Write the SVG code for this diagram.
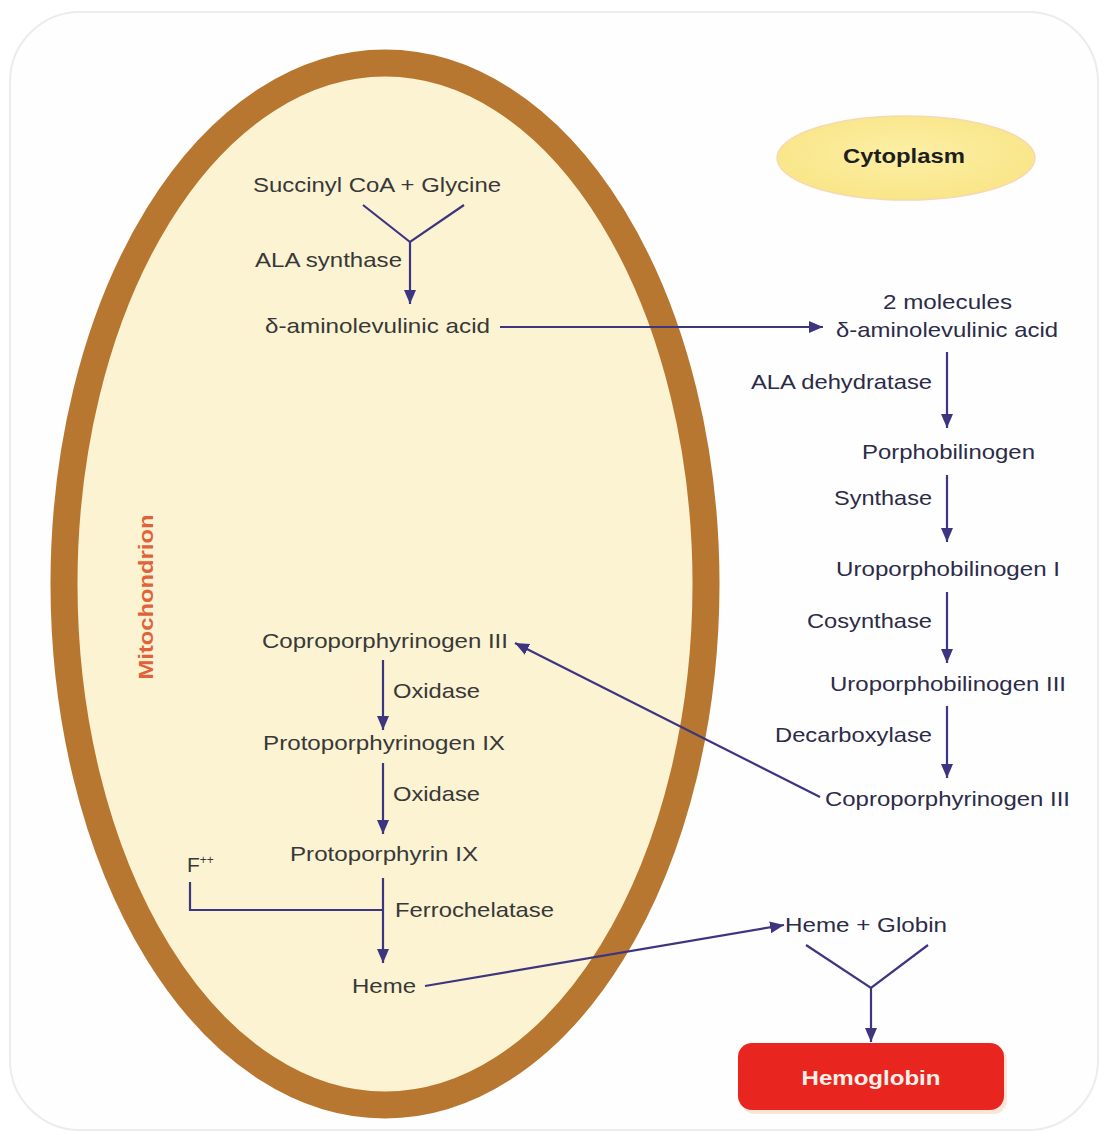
<svg xmlns="http://www.w3.org/2000/svg" width="1106" height="1134" viewBox="0 0 1106 1134">
<style>
.t{font-family:"Liberation Sans",Arial,sans-serif;font-size:21px;fill:#383838}
.e{font-family:"Liberation Sans",Arial,sans-serif;font-size:21px;fill:#2c2b48}
.c{stroke:#3d3580;stroke-width:2.2;fill:none}
.cd{stroke:#3d3580;stroke-width:2.2;fill:none;marker-end:url(#ah)}
</style>
<defs>
<marker id="ah" markerUnits="userSpaceOnUse" markerWidth="16" markerHeight="16" viewBox="0 0 16 16" refX="14" refY="8" orient="auto">
<path d="M0,2 L14,8 L0,14 Z" fill="#3d3580"/>
</marker>
<radialGradient id="cy" cx="0.5" cy="0.45" r="0.6">
<stop offset="0" stop-color="#fcefa6"/>
<stop offset="1" stop-color="#f9e585"/>
</radialGradient>
</defs>
<rect x="0" y="0" width="1106" height="1134" fill="#ffffff"/>
<rect x="10" y="12" width="1088" height="1118" rx="70" fill="#fefefe" stroke="#ececec" stroke-width="2"/>

<g id="mitochondrion">
<ellipse cx="385" cy="584" rx="321" ry="521" fill="#fcf3d2" stroke="#b87730" stroke-width="27"/>
<text class="t" transform="translate(153,597) rotate(-90)" text-anchor="middle" style="font-weight:bold;fill:#e0623c;font-size:21px" textLength="165" lengthAdjust="spacingAndGlyphs">Mitochondrion</text>
</g>

<g id="cytoplasm">
<ellipse cx="906" cy="158" rx="129" ry="42" fill="url(#cy)" stroke="#f6d9b0" stroke-width="1.5"/>
<text class="t" x="904" y="163" text-anchor="middle" style="font-weight:bold;fill:#1e1e1e;font-size:20px" textLength="122" lengthAdjust="spacingAndGlyphs">Cytoplasm</text>
</g>

<g id="connectors">
<polyline class="c" points="363,205 410,242 464,205"/>
<line class="cd" x1="410" y1="242" x2="410" y2="304"/>
<line class="cd" x1="500" y1="327" x2="823" y2="327"/>
<line class="cd" x1="947" y1="352" x2="947" y2="428"/>
<line class="cd" x1="947" y1="475" x2="947" y2="542"/>
<line class="cd" x1="947" y1="592" x2="947" y2="663"/>
<line class="cd" x1="947" y1="706" x2="947" y2="778"/>
<line class="cd" x1="820" y1="797" x2="515" y2="643"/>
<line class="cd" x1="383" y1="660" x2="383" y2="730"/>
<line class="cd" x1="383" y1="763" x2="383" y2="834"/>
<line class="cd" x1="383" y1="878" x2="383" y2="963"/>
<polyline class="c" points="190,882 190,910 383,910"/>
<line class="cd" x1="425" y1="986" x2="784" y2="925"/>
<polyline class="c" points="806,945 871,988 928,945"/>
<line class="cd" x1="871" y1="988" x2="871" y2="1042"/>
</g>

<g id="n-succinyl"><text class="t" x="253" y="192" textLength="248" lengthAdjust="spacingAndGlyphs">Succinyl CoA + Glycine</text></g>
<g id="n-ala-synthase"><text class="t" x="255" y="267" textLength="147" lengthAdjust="spacingAndGlyphs">ALA synthase</text></g>
<g id="n-ala-mito"><text class="t" x="265" y="333" textLength="225" lengthAdjust="spacingAndGlyphs">δ-aminolevulinic acid</text></g>

<g id="n-ala-cyto">
<text class="e" x="883" y="309" textLength="129" lengthAdjust="spacingAndGlyphs">2 molecules</text>
<text class="e" x="836" y="337" textLength="222" lengthAdjust="spacingAndGlyphs">δ-aminolevulinic acid</text>
</g>
<g id="n-ala-dehydratase"><text class="e" x="751" y="389" textLength="181" lengthAdjust="spacingAndGlyphs">ALA dehydratase</text></g>
<g id="n-porphobilinogen"><text class="e" x="862" y="459" textLength="173" lengthAdjust="spacingAndGlyphs">Porphobilinogen</text></g>
<g id="n-synthase"><text class="e" x="834" y="505" textLength="98" lengthAdjust="spacingAndGlyphs">Synthase</text></g>
<g id="n-uro-i"><text class="e" x="836" y="576" textLength="224" lengthAdjust="spacingAndGlyphs">Uroporphobilinogen I</text></g>
<g id="n-cosynthase"><text class="e" x="807" y="628" textLength="125" lengthAdjust="spacingAndGlyphs">Cosynthase</text></g>
<g id="n-uro-iii"><text class="e" x="830" y="691" textLength="236" lengthAdjust="spacingAndGlyphs">Uroporphobilinogen III</text></g>
<g id="n-decarboxylase"><text class="e" x="775" y="742" textLength="157" lengthAdjust="spacingAndGlyphs">Decarboxylase</text></g>
<g id="n-copro-cyto"><text class="e" x="825" y="806" textLength="245" lengthAdjust="spacingAndGlyphs">Coproporphyrinogen III</text></g>

<g id="n-copro-mito"><text class="t" x="262" y="648" textLength="246" lengthAdjust="spacingAndGlyphs">Coproporphyrinogen III</text></g>
<g id="n-oxidase1"><text class="t" x="393" y="698" textLength="87" lengthAdjust="spacingAndGlyphs">Oxidase</text></g>
<g id="n-protogen"><text class="t" x="263" y="750" textLength="242" lengthAdjust="spacingAndGlyphs">Protoporphyrinogen IX</text></g>
<g id="n-oxidase2"><text class="t" x="393" y="801" textLength="87" lengthAdjust="spacingAndGlyphs">Oxidase</text></g>
<g id="n-proto"><text class="t" x="290" y="861" textLength="188" lengthAdjust="spacingAndGlyphs">Protoporphyrin IX</text></g>
<g id="n-fe"><text class="t" x="187" y="872">F<tspan dy="-8" style="font-size:12px">++</tspan></text></g>
<g id="n-ferrochelatase"><text class="t" x="395" y="917" textLength="159" lengthAdjust="spacingAndGlyphs">Ferrochelatase</text></g>
<g id="n-heme"><text class="t" x="352" y="993" textLength="64" lengthAdjust="spacingAndGlyphs">Heme</text></g>

<g id="n-heme-globin"><text class="e" x="785" y="932" textLength="162" lengthAdjust="spacingAndGlyphs">Heme + Globin</text></g>

<g id="n-hemoglobin">
<rect x="741" y="1047" width="266" height="67" rx="14" fill="#f6dcc4" opacity="0.7"/>
<rect x="738" y="1043" width="266" height="67" rx="14" fill="#e8261f"/>
<text class="t" x="871" y="1085" text-anchor="middle" style="font-weight:bold;fill:#fff0ea;font-size:20px" textLength="139" lengthAdjust="spacingAndGlyphs">Hemoglobin</text>
</g>
</svg>
